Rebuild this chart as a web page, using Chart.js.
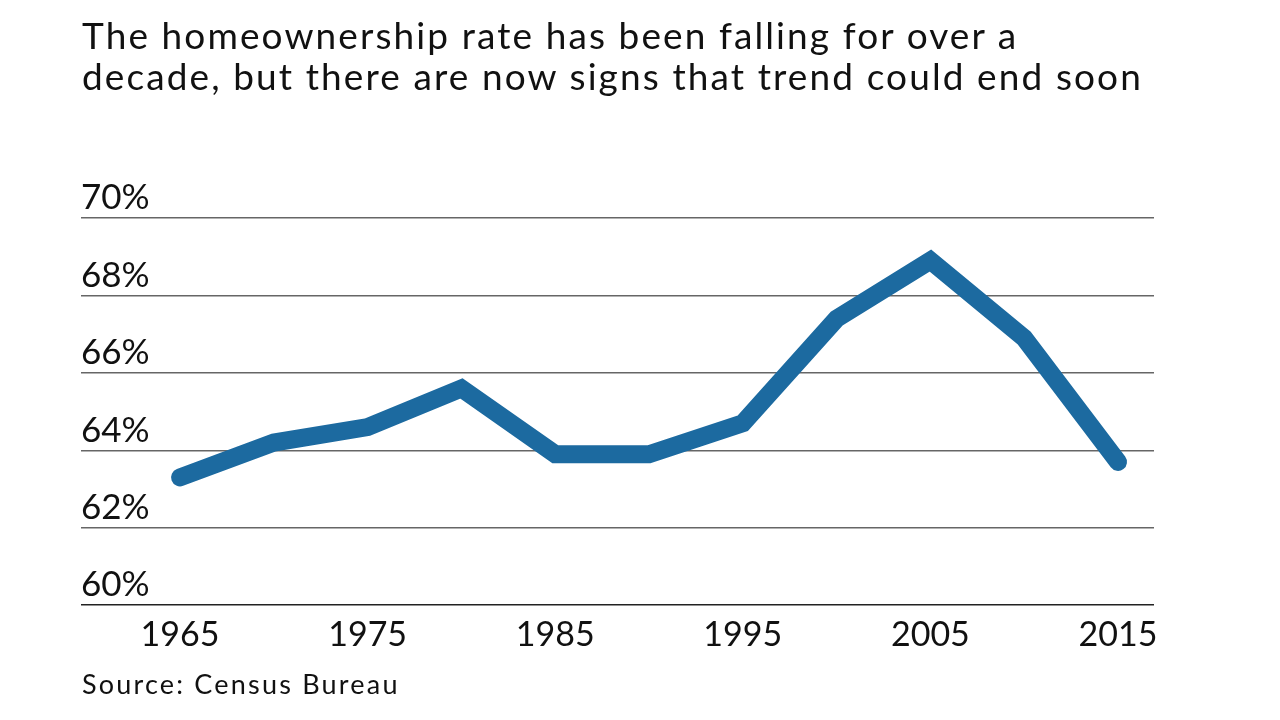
<!DOCTYPE html>
<html>
<head>
<meta charset="utf-8">
<script src="https://cdn.jsdelivr.net/npm/chart.js@4"></script>
<style>
  html, body { margin: 0; padding: 0; background: #fff; }
  body { width: 1280px; height: 720px; position: relative; overflow: hidden; font-family: Lato, sans-serif; color: #111; }
  #wrap { position: absolute; left: 0; top: 0; width: 1280px; height: 720px; }
  .subtitle { position: absolute; left: 82px; top: 14px; font-size: 37px; line-height: 41px; letter-spacing: 2.1px; white-space: nowrap; }
  .source { position: absolute; left: 82px; top: 668px; font-size: 27px; line-height: 1.2; letter-spacing: 2.2px; }
</style>
</head>
<body>
<div id="wrap"><canvas id="chart" width="1280" height="720"></canvas></div>
<div class="subtitle">The homeownership rate has been falling for over a<br>decade, but there are now signs that trend could end soon</div>
<div class="source">Source: Census Bureau</div>
<script>
// Data
const years = [1965, 1970, 1975, 1980, 1985, 1990, 1995, 2000, 2005, 2010, 2015];
const rates = [63.3, 64.2, 64.6, 65.6, 63.9, 63.9, 64.7, 67.4, 68.9, 66.9, 63.7];
const xTicks = [1965, 1975, 1985, 1995, 2005, 2015];
const yTicks = [60, 62, 64, 66, 68, 70];

const ctx = document.getElementById('chart');
new Chart(ctx, {
  type: 'line',
  data: {
    datasets: [{
      data: years.map((y, i) => ({ x: y, y: rates[i] })),
      borderColor: '#1c6aa0',
      borderWidth: 18,
      borderCapStyle: 'round',
      borderJoinStyle: 'miter',
      pointRadius: 0,
      tension: 0,
      fill: false
    }]
  },
  options: {
    responsive: false,
    animation: false,
    layout: { padding: { left: 81, right: 126, top: 218, bottom: 56 } },
    plugins: { legend: { display: false }, tooltip: { enabled: false } },
    scales: {
      x: {
        type: 'linear',
        min: 1959.72,
        max: 2016.92,
        afterBuildTicks: scale => { scale.ticks = xTicks.map(v => ({ value: v })); },
        grid: { display: false, drawTicks: false },
        border: { display: false },
        ticks: {
          padding: 9,
          color: '#111',
          font: { family: 'Lato', size: 34 },
          maxRotation: 0,
          autoSkip: false,
          callback: v => String(v)
        }
      },
      y: {
        min: 60,
        max: 70,
        afterBuildTicks: scale => { scale.ticks = yTicks.map(v => ({ value: v })); },
        grid: {
          drawTicks: false,
          tickLength: 0,
          lineWidth: 1.5,
          color: c => c.tick && c.tick.value === 60 ? '#222' : '#666'
        },
        border: { display: false },
        ticks: {
          mirror: true,
          padding: 0,
          labelOffset: -20,
          color: '#111',
          font: { family: 'Lato', size: 35 },
          callback: v => v + '%'
        }
      }
    }
  }
});
</script>
</body>
</html>
